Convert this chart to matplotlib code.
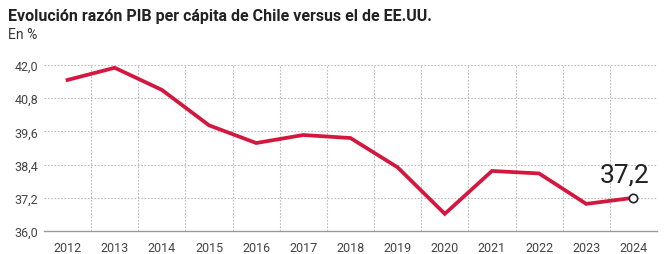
import matplotlib.pyplot as plt
from matplotlib.ticker import FuncFormatter

# Datos
anios = [2012, 2013, 2014, 2015, 2016, 2017, 2018, 2019, 2020, 2021, 2022, 2023, 2024]
razon = [41.46, 41.90, 41.10, 39.82, 39.18, 39.47, 39.36, 38.30, 36.62, 38.17, 38.08, 36.98, 37.20]
ticks_y = [36.0, 37.2, 38.4, 39.6, 40.8, 42.0]

titulo = "Evolución razón PIB per cápita de Chile versus el de EE.UU."
subtitulo = "En %"
ROJO = '#d3173f'
GRIS = '#444444'

plt.rcParams['font.family'] = ['Roboto', 'DejaVu Sans']

fig = plt.figure(figsize=(6.72, 2.55), dpi=100)
ax = fig.add_axes([44 / 672, 1 - 232 / 255, 613 / 672, 166 / 255])

# Rejilla punteada
for y in ticks_y[1:]:
    ax.axhline(y, color='#bbbbbb', lw=0.8, ls=(0, (1.5, 1.5)), zorder=1)
for a in anios[:-1]:
    ax.axvline(a + 0.5, color='#bbbbbb', lw=0.8, ls=(0, (1.5, 1.5)), zorder=1)

ax.plot(anios, razon, color=ROJO, lw=2.7, solid_joinstyle='miter', zorder=3, clip_on=False)
ax.plot(anios[-1], razon[-1], 'o', ms=6, mfc='white', mec='#222222', mew=1.2, zorder=4, clip_on=False)
ax.text(anios[-1] - 0.18, razon[-1] + 0.4, f"{razon[-1]:.1f}".replace('.', ','), ha='center', va='bottom',
        fontsize=19, color='#222222')

ax.set_xlim(2011.5, 2024.5)
ax.set_ylim(36.0, 42.0)
ax.set_xticks(anios)
ax.set_yticks(ticks_y)
ax.yaxis.set_major_formatter(FuncFormatter(lambda v, p: f"{v:.1f}".replace('.', ',')))
ax.tick_params(length=0, labelsize=9, colors=GRIS, pad=4)
ax.tick_params(axis='x', pad=7)

for lado in ['top', 'right', 'left']:
    ax.spines[lado].set_visible(False)
ax.spines['bottom'].set_color('#999999')
ax.spines['bottom'].set_linewidth(1)

fig.text(8 / 672, 1 - 16 / 255, titulo, fontsize=11.5, fontweight='bold', color='#222222',
         va='center', ha='left')
fig.text(8 / 672, 1 - 35 / 255, subtitulo, fontsize=10, color='#333333', va='center', ha='left')

fig.savefig('out.png', dpi=100)
